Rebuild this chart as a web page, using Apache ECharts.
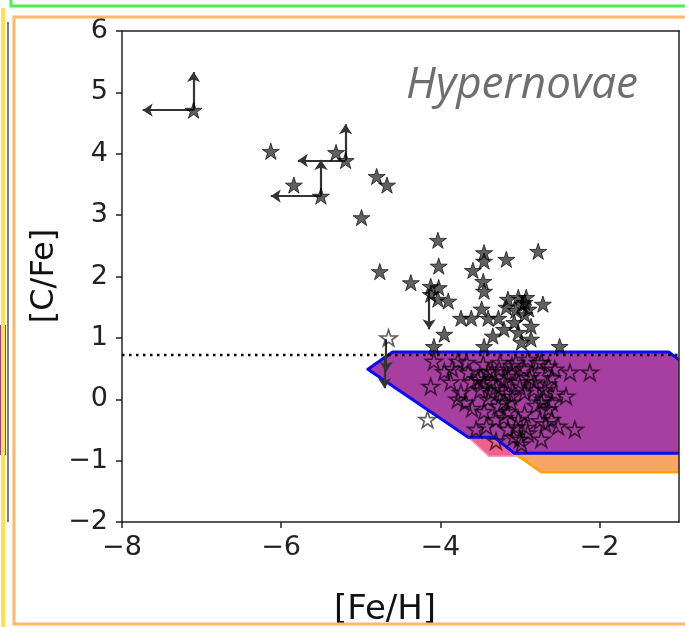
<!DOCTYPE html>
<html>
<head>
<meta charset="utf-8">
<script src="https://cdn.jsdelivr.net/npm/echarts@6/dist/echarts.min.js"></script>
<style>
html,body{margin:0;padding:0;background:#fff;}
#chart{width:685px;height:627px;}
</style>
</head>
<body>
<div id="chart"></div>
<script>
// ---- data ----
const xTickValues = [-8, -6, -4, -2];
const yTickValues = [-2, -1, 0, 1, 2, 3, 4, 5, 6];

// filled (carbon-enhanced) stars
const filledX = [-7.10,-6.13,-5.84,-5.50,-5.31,-5.19,-4.80,-4.67,-4.99,-4.76,-4.37,-4.03,-4.02,-3.45,-3.45,-3.17,-2.77,-3.59,-3.46,-3.45,
  -4.12,-4.02,-4.12,-4.03,-3.90,-3.74,-3.48,-3.40,-3.27,-3.61,-3.15,-3.02,-2.92,-3.17,-2.94,-2.71,-2.89,-2.86,-3.20,-3.34,
  -3.02,-2.98,-2.86,-3.95,-4.08,-3.45,-2.50,-3.07,-2.94,-3.05,-2.97];
const filledY = [4.71,4.04,3.49,3.31,4.02,3.89,3.63,3.49,2.96,2.08,1.90,2.59,2.17,2.39,2.25,2.28,2.41,2.10,1.92,1.76,
  1.84,1.82,1.71,1.63,1.60,1.32,1.47,1.32,1.32,1.32,1.63,1.66,1.66,1.50,1.38,1.55,1.47,1.19,1.14,1.03,
  1.09,0.93,0.98,1.06,0.86,0.86,0.86,1.25,1.58,1.45,1.55];

// hollow stars
const hollowX = [-4.08,-3.78,-3.46,-4.12,-3.87,-3.74,-3.68,-3.78,-3.53,-3.49,-3.36,-3.40,-3.24,-3.15,-3.20,-3.30,-3.42,-3.55,-3.15,-3.02,
  -2.94,-2.92,-3.00,-2.73,-2.52,-2.31,-2.64,-2.73,-2.69,-2.82,-2.64,-2.56,-2.37,-2.12,-3.02,-2.94,-3.05,-2.90,-2.77,-3.26,
  -3.11,-3.65,-3.61,-3.45,-3.36,-3.27,-3.15,-3.11,-4.16,-2.42,-2.60,-3.11,-2.82,-2.73,-3.30,-2.98,-3.08,-4.65,-3.67,
  -3.20,-3.30,-3.00,-2.85,-3.35,-2.95,-3.10,-3.25,-2.60,-2.65,-2.70,-2.60,-3.45,-3.60,-3.85,-3.95,-2.75,-2.68,-3.20,-3.05,
  -2.88,-3.18,-2.80,-3.40,-3.50,-2.55,-2.90];
const hollowY = [0.62,0.62,0.57,0.21,0.28,0.11,-0.05,0.00,0.33,0.37,0.28,0.00,0.16,0.37,-0.05,-0.33,-0.44,-0.49,-0.49,-0.33,
  -0.24,-0.46,-0.65,-0.65,-0.44,-0.49,-0.16,-0.05,0.16,0.28,0.54,0.49,0.44,0.44,0.28,0.11,0.60,0.65,0.60,0.49,
  0.44,0.44,0.28,0.28,0.11,-0.11,-0.20,0.05,-0.33,0.05,-0.33,-0.05,0.16,0.60,-0.68,-0.73,-0.62,1.00,0.60,
  0.30,0.20,0.20,0.40,0.45,0.50,0.55,0.60,0.35,0.25,0.00,-0.05,-0.20,-0.15,0.50,0.45,-0.35,-0.40,-0.30,-0.45,
  0.35,0.10,-0.10,0.45,0.15,0.10,-0.55];

// upper / lower limit arrows
const arrowFromX = [-7.10,-7.10,-5.50,-5.50,-5.19,-5.19,-4.14,-4.68,-4.70];
const arrowFromY = [4.71,4.71,3.31,3.31,3.89,3.89,1.80,0.98,0.70];
const arrowToX   = [-7.74,-7.10,-6.13,-5.50,-5.79,-5.19,-4.14,-4.68,-4.70];
const arrowToY   = [4.71,5.33,3.31,3.90,3.89,4.48,1.14,0.45,0.18];

// model regions
const purpleX = [-4.91,-4.60,-1.13,-0.85,-0.85,-3.07,-3.32,-3.65];
const purpleY = [0.49,0.77,0.77,0.50,-0.88,-0.88,-0.62,-0.62];
const pinkX = [-3.65,-3.39,-3.05,-3.32];
const pinkY = [-0.62,-0.93,-0.93,-0.62];
const orangeX = [-3.36,-2.73,-0.85,-0.85];
const orangeY = [-0.62,-1.19,-1.19,-0.62];

const dottedX = [-8, -1];
const dottedY = [0.72, 0.72];

// ---- chart ----
const starPath = 'path://M0,-10L2.245,-3.09L9.511,-3.09L3.633,1.18L5.878,8.09L0,3.82L-5.878,8.09L-3.633,1.18L-9.511,-3.09L-2.245,-3.09Z';
const minus = v => String(v).replace('-', '\u2212');

function polySeries(xs, ys, fill, stroke, lw, z) {
  return {
    type: 'custom', coordinateSystem: 'cartesian2d', clip: true, z: z, silent: true,
    data: xs.map((x, i) => [x, ys[i]]),
    renderItem: function (params, api) {
      if (params.dataIndex !== 0) return;
      const pts = xs.map((x, i) => api.coord([x, ys[i]]));
      const cs = params.coordSys;
      return {
        type: 'group',
        children: [{
          type: 'polygon', shape: { points: pts },
          style: { fill: fill, stroke: stroke, lineWidth: lw, lineJoin: 'round' }
        }],
        clipPath: { type: 'rect', shape: { x: cs.x, y: cs.y, width: cs.width, height: cs.height } }
      };
    }
  };
}

const chart = echarts.init(document.getElementById('chart'), null, { renderer: 'canvas' });
const tickFont = { fontFamily: 'DejaVu Sans', fontSize: 27, color: '#222' };
chart.setOption({
  animation: false,
  backgroundColor: '#fff',
  grid: { left: 122, right: 6, top: 31, bottom: 105, show: false },
  xAxis: [{
    type: 'value', min: -8, max: -1, position: 'bottom',
    axisLine: { show: true, onZero: false, lineStyle: { color: '#222', width: 1.5 } },
    axisTick: { show: true, length: 6, customValues: xTickValues, lineStyle: { color: '#222', width: 1.5 } },
    axisLabel: Object.assign({ margin: 12, customValues: xTickValues, formatter: minus }, tickFont),
    splitLine: { show: false }
  }, {
    type: 'value', min: -8, max: -1, position: 'top', z: 10,
    axisLine: { show: true, onZero: false, lineStyle: { color: '#222', width: 1.5 } },
    axisTick: { show: false }, axisLabel: { show: false }, splitLine: { show: false }
  }],
  yAxis: [{
    type: 'value', min: -2, max: 6, interval: 1, position: 'left',
    axisLine: { show: true, onZero: false, lineStyle: { color: '#222', width: 1.5 } },
    axisTick: { show: true, length: 6, lineStyle: { color: '#222', width: 1.5 } },
    axisLabel: Object.assign({ margin: 14, formatter: minus }, tickFont),
    splitLine: { show: false }
  }, {
    type: 'value', min: -2, max: 6, interval: 1, position: 'right', z: 10,
    axisLine: { show: true, onZero: false, lineStyle: { color: '#222', width: 1.5 } },
    axisTick: { show: false }, axisLabel: { show: false }, splitLine: { show: false }
  }],
  series: [
    polySeries(orangeX, orangeY, '#F9A664', '#FFA500', 2.5, 2),
    polySeries(pinkX, pinkY, '#F0608C', '#F9A0C0', 1.5, 2),
    polySeries(purpleX, purpleY, '#A63F9F', '#0A0AF5', 3, 3),
    {
      type: 'line', data: dottedX.map((x, i) => [x, dottedY[i]]), symbol: 'none', z: 4, silent: true,
      lineStyle: { color: '#000', width: 2.5, type: [2.5, 4.5], cap: 'butt' }
    },
    {
      type: 'lines', coordinateSystem: 'cartesian2d', z: 5, silent: true,
      symbol: ['none', 'arrow'], symbolSize: 10,
      lineStyle: { color: '#333', width: 2.2, opacity: 1, curveness: 0 },
      data: arrowFromX.map((x, i) => ({ coords: [[x, arrowFromY[i]], [arrowToX[i], arrowToY[i]]] }))
    },
    {
      type: 'scatter', z: 6, silent: true, symbol: starPath, symbolKeepAspect: true, symbolSize: 17,
      data: hollowX.map((x, i) => [x, hollowY[i]]),
      itemStyle: { color: 'rgba(0,0,0,0)', borderColor: 'rgba(0,0,0,0.8)', borderWidth: 1.6 }
    },
    {
      type: 'scatter', z: 6, silent: true, symbol: starPath, symbolKeepAspect: true, symbolSize: 17,
      data: filledX.map((x, i) => [x, filledY[i]]),
      itemStyle: { color: 'rgba(0,0,0,0.78)', borderColor: 'rgba(0,0,0,0.85)', borderWidth: 1 }
    }
  ],
  graphic: [
    { type: 'text', x: 522, y: 85, z: 20, style: { text: 'Hypernovae', font: 'italic 44px "Open Sans"', fill: '#6e6e6e', textAlign: 'center', textVerticalAlign: 'middle' } },
    { type: 'text', x: 45, y: 276, rotation: Math.PI / 2, z: 20, style: { text: '[C/Fe]', font: '32px "DejaVu Sans"', fill: '#111', textAlign: 'center', textVerticalAlign: 'middle' } },
    { type: 'text', x: 385, y: 610, z: 20, style: { text: '[Fe/H]', font: '34px "DejaVu Sans"', fill: '#111', textAlign: 'center', textVerticalAlign: 'middle' } },
    // surrounding panel frames
    { type: 'rect', z: 30, shape: { x: 11, y: -10, width: 690, height: 16 }, style: { fill: 'none', stroke: '#4CF04C', lineWidth: 3 } },
    { type: 'rect', z: 30, shape: { x: 14, y: 17, width: 690, height: 607 }, style: { fill: 'none', stroke: '#FFB868', lineWidth: 3 } },
    { type: 'rect', z: 29, shape: { x: 0, y: 325, width: 6, height: 130 }, style: { fill: '#9A3C8E' } },
    { type: 'line', z: 30, shape: { x1: 8, y1: 22, x2: 8, y2: 522 }, style: { stroke: '#555', lineWidth: 1.5 } },
    { type: 'line', z: 31, shape: { x1: 3, y1: 8, x2: 3, y2: 627 }, style: { stroke: '#FFE050', lineWidth: 4 } }
  ]
});
</script>
</body>
</html>
